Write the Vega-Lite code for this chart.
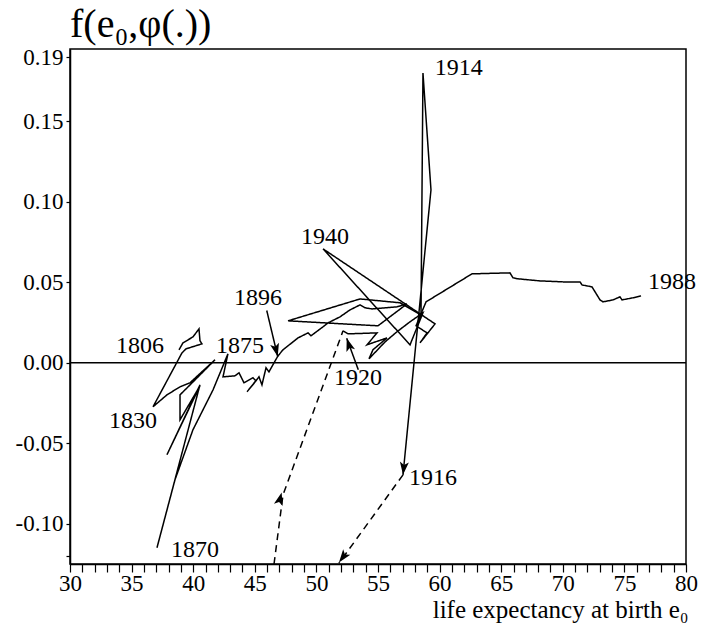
{
  "$schema": "https://vega.github.io/schema/vega-lite/v6.json",
  "width": 616,
  "height": 515,
  "autosize": {"type": "none"},
  "padding": {"left": 70, "top": 49, "right": 18, "bottom": 65},
  "background": "white",
  "config": {
    "view": {"stroke": "black", "strokeWidth": 1.5},
    "font": "Liberation Serif",
    "axis": {"grid": false, "domainColor": "black", "domainWidth": 1.5, "tickColor": "black", "tickWidth": 1.2, "labelColor": "black", "titleColor": "black", "labelFont": "Liberation Serif", "titleFont": "Liberation Serif", "labelFontSize": 23, "titleFontSize": 25, "titleFontWeight": "normal", "labelOverlap": false, "labelFlush": false}
  },
  "title": {"text": "f(e₀,φ(.))", "anchor": "start", "frame": "group", "fontSize": 40, "font": "Liberation Serif", "fontWeight": "normal", "color": "black", "offset": 1},
  "datasets": {
    "traj": [
      {"seg": "A", "i": 1, "e0": 38.85, "f": 0.0081, "period": "normal"},
      {"seg": "A", "i": 2, "e0": 39.17, "f": 0.0124, "period": "normal"},
      {"seg": "A", "i": 3, "e0": 39.98, "f": 0.0161, "period": "normal"},
      {"seg": "A", "i": 4, "e0": 40.47, "f": 0.0211, "period": "normal"},
      {"seg": "A", "i": 5, "e0": 40.55, "f": 0.0137, "period": "normal"},
      {"seg": "A", "i": 6, "e0": 40.71, "f": 0.0118, "period": "normal"},
      {"seg": "A", "i": 7, "e0": 39.42, "f": 0.0087, "period": "normal"},
      {"seg": "A", "i": 8, "e0": 39.09, "f": 0.0062, "period": "normal"},
      {"seg": "A", "i": 9, "e0": 36.74, "f": -0.0273, "period": "normal"},
      {"seg": "A", "i": 10, "e0": 37.87, "f": -0.0199, "period": "normal"},
      {"seg": "A", "i": 11, "e0": 38.93, "f": -0.0149, "period": "normal"},
      {"seg": "A", "i": 12, "e0": 39.74, "f": -0.0124, "period": "normal"},
      {"seg": "A", "i": 13, "e0": 41.77, "f": 0.0019, "period": "normal"},
      {"seg": "A", "i": 14, "e0": 40.15, "f": -0.0106, "period": "normal"},
      {"seg": "A", "i": 15, "e0": 38.93, "f": -0.0199, "period": "normal"},
      {"seg": "A", "i": 16, "e0": 38.93, "f": -0.0354, "period": "normal"},
      {"seg": "A", "i": 17, "e0": 40.55, "f": -0.0143, "period": "normal"},
      {"seg": "A", "i": 18, "e0": 37.87, "f": -0.0571, "period": "normal"},
      {"seg": "A", "i": 19, "e0": 40.55, "f": -0.0137, "period": "normal"},
      {"seg": "A", "i": 20, "e0": 37.06, "f": -0.1149, "period": "normal"},
      {"seg": "A", "i": 21, "e0": 38.52, "f": -0.0727, "period": "normal"},
      {"seg": "A", "i": 22, "e0": 39.98, "f": -0.0416, "period": "normal"},
      {"seg": "A", "i": 23, "e0": 41.61, "f": -0.0168, "period": "normal"},
      {"seg": "A", "i": 24, "e0": 42.82, "f": 0.0056, "period": "normal"},
      {"seg": "A", "i": 25, "e0": 42.42, "f": -0.0087, "period": "normal"},
      {"seg": "A", "i": 26, "e0": 43.39, "f": -0.0081, "period": "normal"},
      {"seg": "A", "i": 27, "e0": 43.72, "f": -0.0062, "period": "normal"},
      {"seg": "A", "i": 28, "e0": 44.12, "f": -0.0124, "period": "normal"},
      {"seg": "A", "i": 29, "e0": 44.85, "f": -0.0093, "period": "normal"},
      {"seg": "A", "i": 30, "e0": 45.10, "f": -0.0112, "period": "normal"},
      {"seg": "A", "i": 31, "e0": 44.37, "f": -0.0180, "period": "normal"},
      {"seg": "A", "i": 32, "e0": 45.34, "f": -0.0087, "period": "normal"},
      {"seg": "A", "i": 33, "e0": 45.58, "f": -0.0137, "period": "normal"},
      {"seg": "A", "i": 34, "e0": 45.91, "f": -0.0031, "period": "normal"},
      {"seg": "A", "i": 35, "e0": 46.15, "f": -0.0056, "period": "normal"},
      {"seg": "A", "i": 36, "e0": 46.88, "f": 0.0043, "period": "normal"},
      {"seg": "A", "i": 37, "e0": 47.29, "f": 0.0081, "period": "normal"},
      {"seg": "A", "i": 38, "e0": 48.51, "f": 0.0155, "period": "normal"},
      {"seg": "A", "i": 39, "e0": 49.32, "f": 0.0186, "period": "normal"},
      {"seg": "A", "i": 40, "e0": 49.56, "f": 0.0168, "period": "normal"},
      {"seg": "A", "i": 41, "e0": 50.54, "f": 0.0224, "period": "normal"},
      {"seg": "A", "i": 42, "e0": 50.94, "f": 0.0248, "period": "normal"},
      {"seg": "A", "i": 43, "e0": 51.92, "f": 0.0286, "period": "normal"},
      {"seg": "A", "i": 44, "e0": 52.73, "f": 0.0329, "period": "normal"},
      {"seg": "A", "i": 45, "e0": 53.54, "f": 0.0360, "period": "normal"},
      {"seg": "A", "i": 46, "e0": 53.94, "f": 0.0342, "period": "normal"},
      {"seg": "A", "i": 47, "e0": 54.51, "f": 0.0335, "period": "normal"},
      {"seg": "A", "i": 48, "e0": 56.54, "f": 0.0348, "period": "normal"},
      {"seg": "A", "i": 49, "e0": 57.35, "f": 0.0366, "period": "normal"},
      {"seg": "A", "i": 50, "e0": 55.00, "f": 0.0230, "period": "normal"},
      {"seg": "A", "i": 51, "e0": 47.70, "f": 0.0261, "period": "normal"},
      {"seg": "A", "i": 52, "e0": 53.54, "f": 0.0397, "period": "normal"},
      {"seg": "A", "i": 53, "e0": 56.79, "f": 0.0373, "period": "normal"},
      {"seg": "A", "i": 54, "e0": 58.49, "f": 0.0298, "period": "normal"},
      {"seg": "A", "i": 55, "e0": 58.65, "f": 0.1801, "period": "normal"},
      {"seg": "A", "i": 56, "e0": 59.30, "f": 0.1074, "period": "normal"},
      {"seg": "A", "i": 57, "e0": 57.03, "f": -0.0696, "period": "normal"},
      {"seg": "B", "i": 58, "e0": 57.03, "f": -0.0696, "period": "war"},
      {"seg": "B", "i": 59, "e0": 51.83, "f": -0.1245, "period": "war"},
      {"seg": "C", "i": 60, "e0": 46.56, "f": -0.1250, "period": "war"},
      {"seg": "C", "i": 61, "e0": 47.29, "f": -0.0820, "period": "war"},
      {"seg": "C", "i": 62, "e0": 52.16, "f": 0.0199, "period": "war"},
      {"seg": "D", "i": 63, "e0": 52.16, "f": 0.0199, "period": "normal"},
      {"seg": "D", "i": 64, "e0": 52.57, "f": 0.0180, "period": "normal"},
      {"seg": "D", "i": 65, "e0": 54.92, "f": 0.0186, "period": "normal"},
      {"seg": "D", "i": 66, "e0": 54.11, "f": 0.0112, "period": "normal"},
      {"seg": "D", "i": 67, "e0": 55.73, "f": 0.0155, "period": "normal"},
      {"seg": "D", "i": 68, "e0": 54.59, "f": 0.0081, "period": "normal"},
      {"seg": "D", "i": 69, "e0": 54.27, "f": 0.0025, "period": "normal"},
      {"seg": "D", "i": 70, "e0": 55.57, "f": 0.0130, "period": "normal"},
      {"seg": "D", "i": 71, "e0": 56.54, "f": 0.0193, "period": "normal"},
      {"seg": "D", "i": 72, "e0": 57.60, "f": 0.0255, "period": "normal"},
      {"seg": "D", "i": 73, "e0": 58.65, "f": 0.0311, "period": "normal"},
      {"seg": "D", "i": 74, "e0": 57.60, "f": 0.0112, "period": "normal"},
      {"seg": "D", "i": 75, "e0": 50.54, "f": 0.0708, "period": "normal"},
      {"seg": "D", "i": 76, "e0": 59.63, "f": 0.0242, "period": "normal"},
      {"seg": "D", "i": 77, "e0": 58.41, "f": 0.0124, "period": "normal"},
      {"seg": "D", "i": 78, "e0": 58.98, "f": 0.0186, "period": "normal"},
      {"seg": "D", "i": 79, "e0": 58.09, "f": 0.0230, "period": "normal"},
      {"seg": "D", "i": 80, "e0": 58.90, "f": 0.0379, "period": "normal"},
      {"seg": "D", "i": 81, "e0": 62.63, "f": 0.0553, "period": "normal"},
      {"seg": "D", "i": 82, "e0": 65.71, "f": 0.0559, "period": "normal"},
      {"seg": "D", "i": 83, "e0": 65.96, "f": 0.0528, "period": "normal"},
      {"seg": "D", "i": 84, "e0": 66.36, "f": 0.0522, "period": "normal"},
      {"seg": "D", "i": 85, "e0": 68.15, "f": 0.0509, "period": "normal"},
      {"seg": "D", "i": 86, "e0": 70.02, "f": 0.0503, "period": "normal"},
      {"seg": "D", "i": 87, "e0": 71.40, "f": 0.0503, "period": "normal"},
      {"seg": "D", "i": 88, "e0": 71.56, "f": 0.0484, "period": "normal"},
      {"seg": "D", "i": 89, "e0": 72.37, "f": 0.0472, "period": "normal"},
      {"seg": "D", "i": 90, "e0": 73.02, "f": 0.0391, "period": "normal"},
      {"seg": "D", "i": 91, "e0": 73.26, "f": 0.0379, "period": "normal"},
      {"seg": "D", "i": 92, "e0": 74.08, "f": 0.0391, "period": "normal"},
      {"seg": "D", "i": 93, "e0": 74.64, "f": 0.0410, "period": "normal"},
      {"seg": "D", "i": 94, "e0": 74.81, "f": 0.0391, "period": "normal"},
      {"seg": "D", "i": 95, "e0": 75.70, "f": 0.0404, "period": "normal"},
      {"seg": "D", "i": 96, "e0": 76.35, "f": 0.0416, "period": "normal"},
      {"seg": "P1896", "i": 97, "e0": 45.97, "f": 0.0325, "period": "normal"},
      {"seg": "P1896", "i": 98, "e0": 46.86, "f": 0.0039, "period": "normal"},
      {"seg": "P1920", "i": 99, "e0": 53.40, "f": -0.0043, "period": "normal"},
      {"seg": "P1920", "i": 100, "e0": 52.46, "f": 0.0153, "period": "normal"},
      {"seg": "ZERO", "i": 101, "e0": 30, "f": 0, "period": "normal"},
      {"seg": "ZERO", "i": 102, "e0": 80, "f": 0, "period": "normal"}
    ],
    "labels": [
      {"label": "1806", "e0": 35.68, "f": 0.0106},
      {"label": "1830", "e0": 35.11, "f": -0.0360},
      {"label": "1870", "e0": 40.15, "f": -0.1161},
      {"label": "1875", "e0": 43.80, "f": 0.0106},
      {"label": "1896", "e0": 45.26, "f": 0.0404},
      {"label": "1914", "e0": 61.55, "f": 0.1832},
      {"label": "1940", "e0": 50.70, "f": 0.0782},
      {"label": "1920", "e0": 53.38, "f": -0.0093},
      {"label": "1916", "e0": 59.47, "f": -0.0714},
      {"label": "1988", "e0": 78.86, "f": 0.0503}
    ]
  },
  "encoding": {
    "x": {"field": "e0", "type": "quantitative", "scale": {"domain": [30, 80], "nice": false, "zero": false},
      "axis": {"title": "life expectancy at birth e₀", "values": [30,31,32,33,34,35,36,37,38,39,40,41,42,43,44,45,46,47,48,49,50,51,52,53,54,55,56,57,58,59,60,61,62,63,64,65,66,67,68,69,70,71,72,73,74,75,76,77,78,79,80], "labelExpr": "datum.value % 5 === 0 ? format(datum.value, 'd') : ''", "tickSize": 8, "labelPadding": 0, "labelDx": 2, "titleAnchor": "end", "titleAlign": "right", "titleBaseline": "alphabetic", "titleX": 618, "titleY": 53}},
    "y": {"field": "f", "type": "quantitative", "scale": {"domain": [-0.125, 0.195], "nice": false, "zero": false},
      "axis": {"title": null, "values": [-0.12, -0.1, -0.05, 0, 0.05, 0.1, 0.15, 0.19], "labelExpr": "datum.value < -0.11 ? '' : (datum.value < 0 ? '-' : '') + format(abs(datum.value), '.2f')", "tickSize": 4, "labelPadding": 3}}
  },
  "layer": [
    {
      "data": {"name": "traj"},
      "mark": {"type": "line", "color": "black", "strokeWidth": 1.5, "clip": true},
      "encoding": {
        "detail": {"field": "seg"},
        "order": {"field": "i", "type": "quantitative"},
        "strokeDash": {"field": "period", "type": "nominal", "scale": {"domain": ["normal", "war"], "range": [[1, 0], [7, 5]]}, "legend": null}
      }
    },
    {
      "data": {"name": "labels"},
      "mark": {"type": "text", "fontSize": 24, "font": "Liberation Serif", "color": "black", "align": "center", "baseline": "middle"},
      "encoding": {"text": {"field": "label"}}
    },
    {
      "data": {"values": [{"e0": 46.86, "f": 0.0039}]},
      "mark": {"type": "point", "shape": "M0,0L0.45,1.3L0,1.0L-0.45,1.3Z", "size": 400, "filled": true, "color": "black", "opacity": 1, "angle": 166}
    },
    {
      "data": {"values": [{"e0": 52.46, "f": 0.0153}]},
      "mark": {"type": "point", "shape": "M0,0L0.45,1.3L0,1.0L-0.45,1.3Z", "size": 400, "filled": true, "color": "black", "opacity": 1, "angle": 342}
    },
    {
      "data": {"values": [{"e0": 57.03, "f": -0.0696}]},
      "mark": {"type": "point", "shape": "M0,0L0.45,1.3L0,1.0L-0.45,1.3Z", "size": 400, "filled": true, "color": "black", "opacity": 1, "angle": 186}
    },
    {
      "data": {"values": [{"e0": 51.83, "f": -0.1240}]},
      "mark": {"type": "point", "shape": "M0,0L0.45,1.3L0,1.0L-0.45,1.3Z", "size": 400, "filled": true, "color": "black", "opacity": 1, "angle": 217}
    },
    {
      "data": {"values": [{"e0": 47.18, "f": -0.0805}]},
      "mark": {"type": "point", "shape": "M0,0L0.45,1.3L0,1.0L-0.45,1.3Z", "size": 400, "filled": true, "color": "black", "opacity": 1, "angle": 15}
    }
  ]
}
